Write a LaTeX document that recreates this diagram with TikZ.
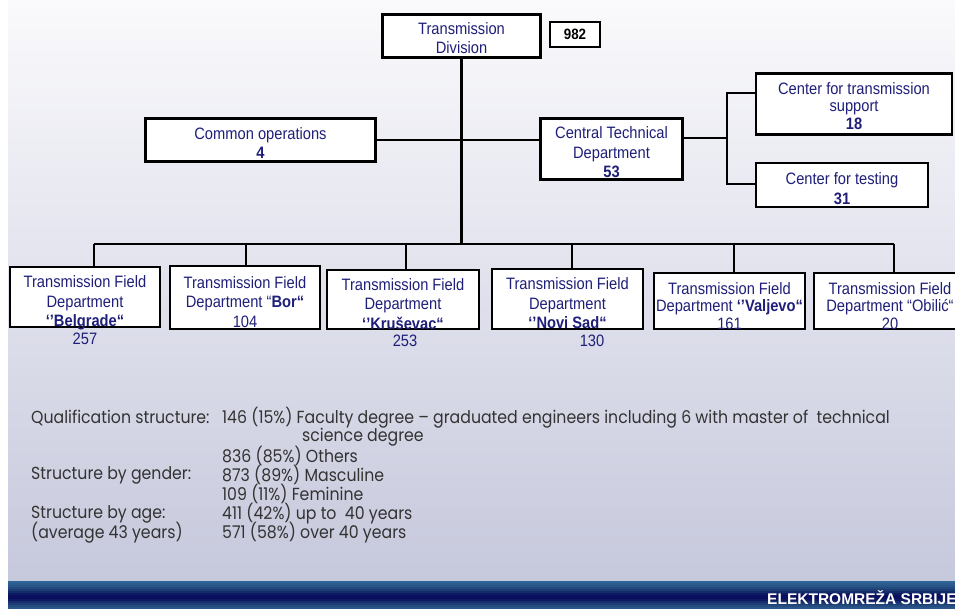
\documentclass[tikz,border=0pt]{standalone}
\usepackage{fontspec}
\setmainfont[FakeStretch=0.89]{Liberation Sans}
\newfontfamily\brandfont{Liberation Sans}
\newfontfamily\gothic[FakeStretch=0.9]{Poppins}
\definecolor{navy}{HTML}{1F1F7A}
\definecolor{infogray}{HTML}{333333}
\definecolor{bgtop}{HTML}{FAFAFC}
\definecolor{bgbot}{HTML}{C6C8DC}
\definecolor{fa}{HTML}{2F6496}
\definecolor{fb}{HTML}{2C5C8E}
\definecolor{fc}{HTML}{285486}
\definecolor{fd}{HTML}{234A7E}
\definecolor{fe}{HTML}{1C3C74}
\definecolor{ff}{HTML}{152C6A}
\definecolor{fg}{HTML}{0E1A62}
\definecolor{fh}{HTML}{0A0F5E}
\definecolor{fi}{HTML}{0A0F5E}
\definecolor{fj}{HTML}{0E1A62}
\definecolor{fk}{HTML}{162E6C}
\definecolor{fl}{HTML}{1E3E76}
\definecolor{fm}{HTML}{254C80}
\definecolor{fn}{HTML}{2A5688}
\begin{document}
\begin{tikzpicture}[x=1pt,y=-1pt,
  box/.style={draw=black,line width=2.6pt,fill=white,inner sep=0pt},
  lab/.style={align=center,text=navy,inner sep=0pt,font=\fontsize{16.5}{19.5}\selectfont},
  labtight/.style={lab,font=\fontsize{16.5}{17.5}\selectfont},
  conn/.style={draw=black,line width=2.6pt},
  num/.style={inner sep=0pt,text=navy,font=\fontsize{16.5}{19.5}\selectfont},
  info/.style={anchor=west,inner sep=0pt,text=infogray,font=\gothic\fontsize{17.5}{20}\selectfont}]
\useasboundingbox (0,0) rectangle (955,609);
\begin{scope}
\clip (0,0) rectangle (955,609);
\fill[white] (0,0) rectangle (955,609);
\shade[top color=bgtop,bottom color=bgbot] (8,0) rectangle (955,581);
\foreach \c [count=\i from 0] in {fa,fb,fc,fd,fe,ff,fg,fh,fi,fj,fk,fl,fm,fn}
  \fill[\c] (8,581+2*\i) rectangle (955,583+2*\i);
\node[anchor=base west,inner sep=0pt,text=white,font=\brandfont\bfseries\fontsize{15.5}{16}\selectfont] (brand) at (767,604) {ELEKTROMREŽA SRBIJE};

% top level
\node[box,minimum width=158pt,minimum height=43pt,
  label={[lab,yshift=-2pt]center:{Transmission\\Division}}] (td) at (461.5,36) {};
\node[box,text=black,minimum width=50pt,minimum height=25pt,font=\bfseries\fontsize{15}{18}\selectfont] (total) at (575,34.5) {982};
\node[box,minimum width=230pt,minimum height=43pt,
  label={[lab,yshift=-3pt]center:{Common operations\\\textbf{4}}}] (co) at (260.5,140) {};
\node[box,minimum width=142pt,minimum height=61pt,
  label={[lab,yshift=-3.5pt]center:{Central Technical\\Department\\\textbf{53}}}] (ctd) at (611.5,149) {};
\node[box,minimum width=196pt,minimum height=61pt,
  label={[labtight,yshift=-2pt]center:{Center for transmission\\support\\\textbf{18}}}] (cts) at (854,104) {};
\node[box,minimum width=172pt,minimum height=44pt,
  label={[lab,yshift=-3.5pt]center:{Center for testing\\\textbf{31}}}] (cft) at (842,185) {};

% field departments
\node[box,minimum width=150pt,minimum height=60pt,
  label={[lab,yshift=-6pt]center:{Transmission Field\\Department\\\textbf{‘’Belgrade“}}}] (f1) at (85,297) {};
\node[box,minimum width=150pt,minimum height=63pt,
  label={[lab,yshift=-4.5pt]center:{Transmission Field\\Department “\textbf{Bor“}\\104}}] (f2) at (245,297.5) {};
\node[box,minimum width=152pt,minimum height=59pt,
  label={[lab,yshift=-4.5pt]center:{Transmission Field\\Department\\\textbf{‘’Kruševac“}}}] (f3) at (403,299.5) {};
\node[box,minimum width=151pt,minimum height=60pt,
  label={[lab,yshift=-4.5pt]center:{Transmission Field\\Department\\\textbf{‘’Novi Sad“}}}] (f4) at (567.5,299) {};
\node[box,minimum width=151pt,minimum height=56pt,
  label={[labtight,yshift=-5pt]center:{Transmission Field\\Department \textbf{‘’Valjevo“}\\161}}] (f5) at (729.5,301) {};
\node[box,minimum width=152pt,minimum height=56pt,
  label={[labtight,yshift=-5pt]center:{Transmission Field\\Department “Obilić“\\20}}] (f6) at (890,301) {};
\node[num] (n1) at (85,339) {257};
\node[num] (n3) at (405,341) {253};
\node[num] (n4) at (592,341) {130};

% connectors
\coordinate (bus) at (462,244);
\draw[conn] (td.south) -- (td.south |- bus);
\draw[conn] (co.east) -- (co.east -| ctd.west);
\coordinate (jm) at (727,138);
\coordinate (ja) at (727,93);
\coordinate (jb) at (727,184);
\draw[conn] (ctd.east |- jm) -- (jm);
\draw[conn] (cts.west |- ja) -- (ja) -- (jb) -- (cft.west |- jb);
\coordinate (d1) at (94,244);
\coordinate (d2) at (246,244);
\coordinate (d3) at (406,244);
\coordinate (d4) at (572,244);
\coordinate (d5) at (734,244);
\coordinate (d6) at (894,244);
\draw[conn] (d1) -- (d6);
\draw[conn] (d1) -- (d1 |- f1.north);
\draw[conn] (d2) -- (d2 |- f2.north);
\draw[conn] (d3) -- (d3 |- f3.north);
\draw[conn] (d4) -- (d4 |- f4.north);
\draw[conn] (d5) -- (d5 |- f5.north);
\draw[conn] (d6) -- (d6 |- f6.north);

% info text
\node[info] (q1) at (31,418) {Qualification structure:};
\node[info] (q2) at (222,418) {146 (15\%) Faculty degree – graduated engineers including 6 with master of\ \ technical};
\node[info] (q3) at (302,437) {science degree};
\node[info] (q4) at (222,456) {836 (85\%) Others};
\node[info] (g1) at (31,475) {Structure by gender:};
\node[info] (g2) at (222,475) {873 (89\%) Masculine};
\node[info] (g3) at (222,494) {109 (11\%) Feminine};
\node[info] (a1) at (31,514) {Structure by age:};
\node[info] (a2) at (222,514) {411 (42\%) up to\ \ 40 years};
\node[info] (a3) at (31,533) {(average 43 years)};
\node[info] (a4) at (222,533) {571 (58\%) over 40 years};
\end{scope}
\end{tikzpicture}
\end{document}
